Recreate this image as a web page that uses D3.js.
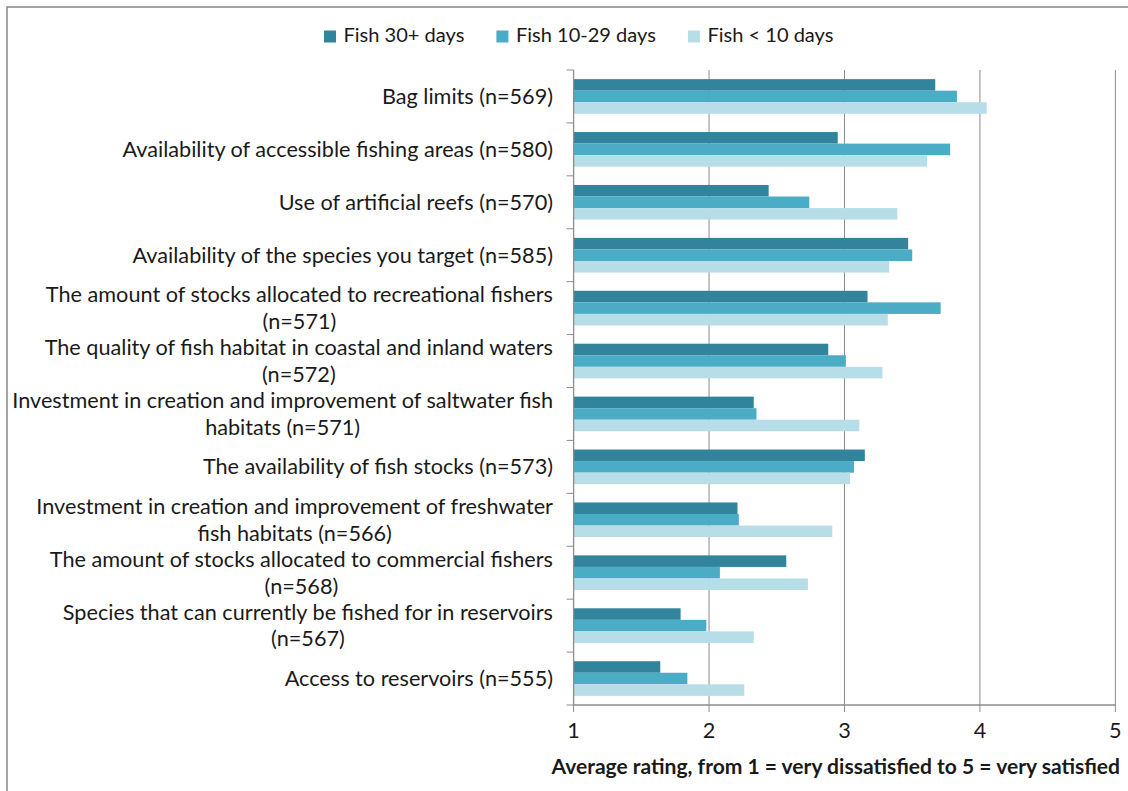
<!DOCTYPE html>
<html><head><meta charset="utf-8">
<script src="https://cdn.jsdelivr.net/npm/d3@7"></script>
<style>
html,body{margin:0;padding:0;background:#fff;overflow:hidden;}
svg{display:block;}
text{font-family:Lato,"Open Sans",sans-serif;fill:#1a1a1a;}
</style></head>
<body>
<svg id="c" width="1128" height="791"></svg>
<script>
const categories = [
  "Bag limits (n=569)",
  "Availability of accessible fishing areas (n=580)",
  "Use of artificial reefs (n=570)",
  "Availability of the species you target (n=585)",
  "The amount of stocks allocated to recreational fishers\n(n=571)",
  "The quality of fish habitat in coastal and inland waters\n(n=572)",
  "Investment in creation and improvement of saltwater fish\nhabitats (n=571)",
  "The availability of fish stocks (n=573)",
  "Investment in creation and improvement of freshwater\nfish habitats (n=566)",
  "The amount of stocks allocated to commercial fishers\n(n=568)",
  "Species that can currently be fished for in reservoirs\n(n=567)",
  "Access to reservoirs (n=555)"
];
const seriesNames = ["Fish 30+ days", "Fish 10-29 days", "Fish < 10 days"];
const fish30 =   [3.67, 2.95, 2.44, 3.47, 3.17, 2.88, 2.33, 3.15, 2.21, 2.57, 1.79, 1.64];
const fish1029 = [3.83, 3.78, 2.74, 3.50, 3.71, 3.01, 2.35, 3.07, 2.22, 2.08, 1.98, 1.84];
const fishLt10 = [4.05, 3.61, 3.39, 3.33, 3.32, 3.28, 3.11, 3.04, 2.91, 2.73, 2.33, 2.26];
const xTicks = [1, 2, 3, 4, 5];
const axisTitle = "Average rating, from 1 = very dissatisfied to 5 = very satisfied";

const seriesValues = [fish30, fish1029, fishLt10];
const colors = ["#31849b", "#4bacc6", "#b7dee8"];

const svg = d3.select("#c");
const margin = {left: 573.6, right: 1115.4, top: 70, bottom: 705};

// outer border (clipped by page at right/bottom)
svg.append("rect").attr("x", 7).attr("y", 7).attr("width", 1140).attr("height", 810)
  .attr("fill", "none").attr("stroke", "#868686").attr("stroke-width", 1.5);

const x = d3.scaleLinear().domain([1, 5]).range([margin.left, margin.right]);
const y = d3.scaleBand().domain(d3.range(categories.length))
  .range([margin.top, margin.bottom]).paddingInner(0.345).paddingOuter(0.1725);
const yInner = d3.scaleBand().domain(d3.range(seriesNames.length)).range([0, y.bandwidth()]);

// helper to fit font size to a target width
function fitSize(str, target, weight) {
  const t = svg.append("text").attr("font-size", 20).attr("font-weight", weight || "normal").text(str);
  const w = t.node().getComputedTextLength();
  t.remove();
  return 20 * target / w;
}
const labelSize = fitSize("The quality of fish habitat in coastal and inland waters", 508.6);
const legendSize = fitSize("Fish 30+ days", 121);
const titleSize = fitSize(axisTitle, 569, "bold");

// gridlines
svg.append("g").selectAll("line").data(xTicks.slice(1)).join("line")
  .attr("x1", d => x(d)).attr("x2", d => x(d))
  .attr("y1", margin.top).attr("y2", margin.bottom)
  .attr("stroke", "#8c8c8c").attr("stroke-width", 1);

// bars
const groups = svg.append("g").selectAll("g").data(categories).join("g")
  .attr("transform", (d, i) => `translate(0,${y(i)})`);
groups.selectAll("rect").data((d, i) => seriesValues.map((s, k) => ({k, v: s[i]}))).join("rect")
  .attr("x", x(1)).attr("y", d => yInner(d.k))
  .attr("width", d => x(d.v) - x(1)).attr("height", yInner.bandwidth())
  .attr("fill", d => colors[d.k]);

// left axis (category boundaries ticks)
const yAxisG = svg.append("g");
yAxisG.append("line").attr("x1", x(1)).attr("x2", x(1)).attr("y1", margin.top).attr("y2", margin.bottom)
  .attr("stroke", "#8c8c8c").attr("stroke-width", 1.3);
const step = y.step();
yAxisG.selectAll("line.t").data(d3.range(categories.length + 1)).join("line").attr("class", "t")
  .attr("x1", x(1) - 7).attr("x2", x(1))
  .attr("y1", i => margin.top + i * step).attr("y2", i => margin.top + i * step)
  .attr("stroke", "#8c8c8c").attr("stroke-width", 1);

// category labels (multi-line, lines centred in block, block right aligned)
const labelRight = 553;
const lineH = labelSize * 1.22;
categories.forEach((c, i) => {
  const lines = c.split("\n");
  const widths = lines.map(l => {
    const t = svg.append("text").attr("font-size", labelSize).text(l);
    const w = t.node().getComputedTextLength(); t.remove(); return w;
  });
  const maxW = d3.max(widths);
  const cy = y(i) + y.bandwidth() / 2;
  const t = svg.append("text").attr("font-size", labelSize).attr("text-anchor", "middle");
  lines.forEach((l, j) => {
    t.append("tspan").attr("x", labelRight - maxW / 2)
      .attr("y", cy + (j - (lines.length - 1) / 2) * lineH)
      .attr("dy", "0.35em").text(l);
  });
});

// bottom axis
const xAxisG = svg.append("g");
xAxisG.append("line").attr("x1", x(1)).attr("x2", x(5)).attr("y1", margin.bottom).attr("y2", margin.bottom)
  .attr("stroke", "#8c8c8c").attr("stroke-width", 1.3);
xAxisG.selectAll("line.t").data(xTicks).join("line").attr("class", "t")
  .attr("x1", d => x(d)).attr("x2", d => x(d)).attr("y1", margin.bottom).attr("y2", margin.bottom + 7)
  .attr("stroke", "#8c8c8c");
xAxisG.selectAll("text").data(xTicks).join("text")
  .attr("x", d => x(d)).attr("y", 738).attr("text-anchor", "middle")
  .attr("font-size", labelSize).text(d => d);

// axis title
svg.append("text").attr("x", 1120).attr("y", 774).attr("text-anchor", "end")
  .attr("font-size", titleSize).attr("font-weight", "bold").text(axisTitle);

// legend
const legend = svg.append("g");
let lx = 324;
seriesNames.forEach((n, k) => {
  legend.append("rect").attr("x", lx).attr("y", 30.5).attr("width", 12).attr("height", 12).attr("fill", colors[k]);
  const t = legend.append("text").attr("x", lx + 19.5).attr("y", 41.5).attr("font-size", legendSize).text(n);
  const w = t.node().getComputedTextLength();
  lx = lx + 19.5 + w + 32;
});
</script>
</body></html>
